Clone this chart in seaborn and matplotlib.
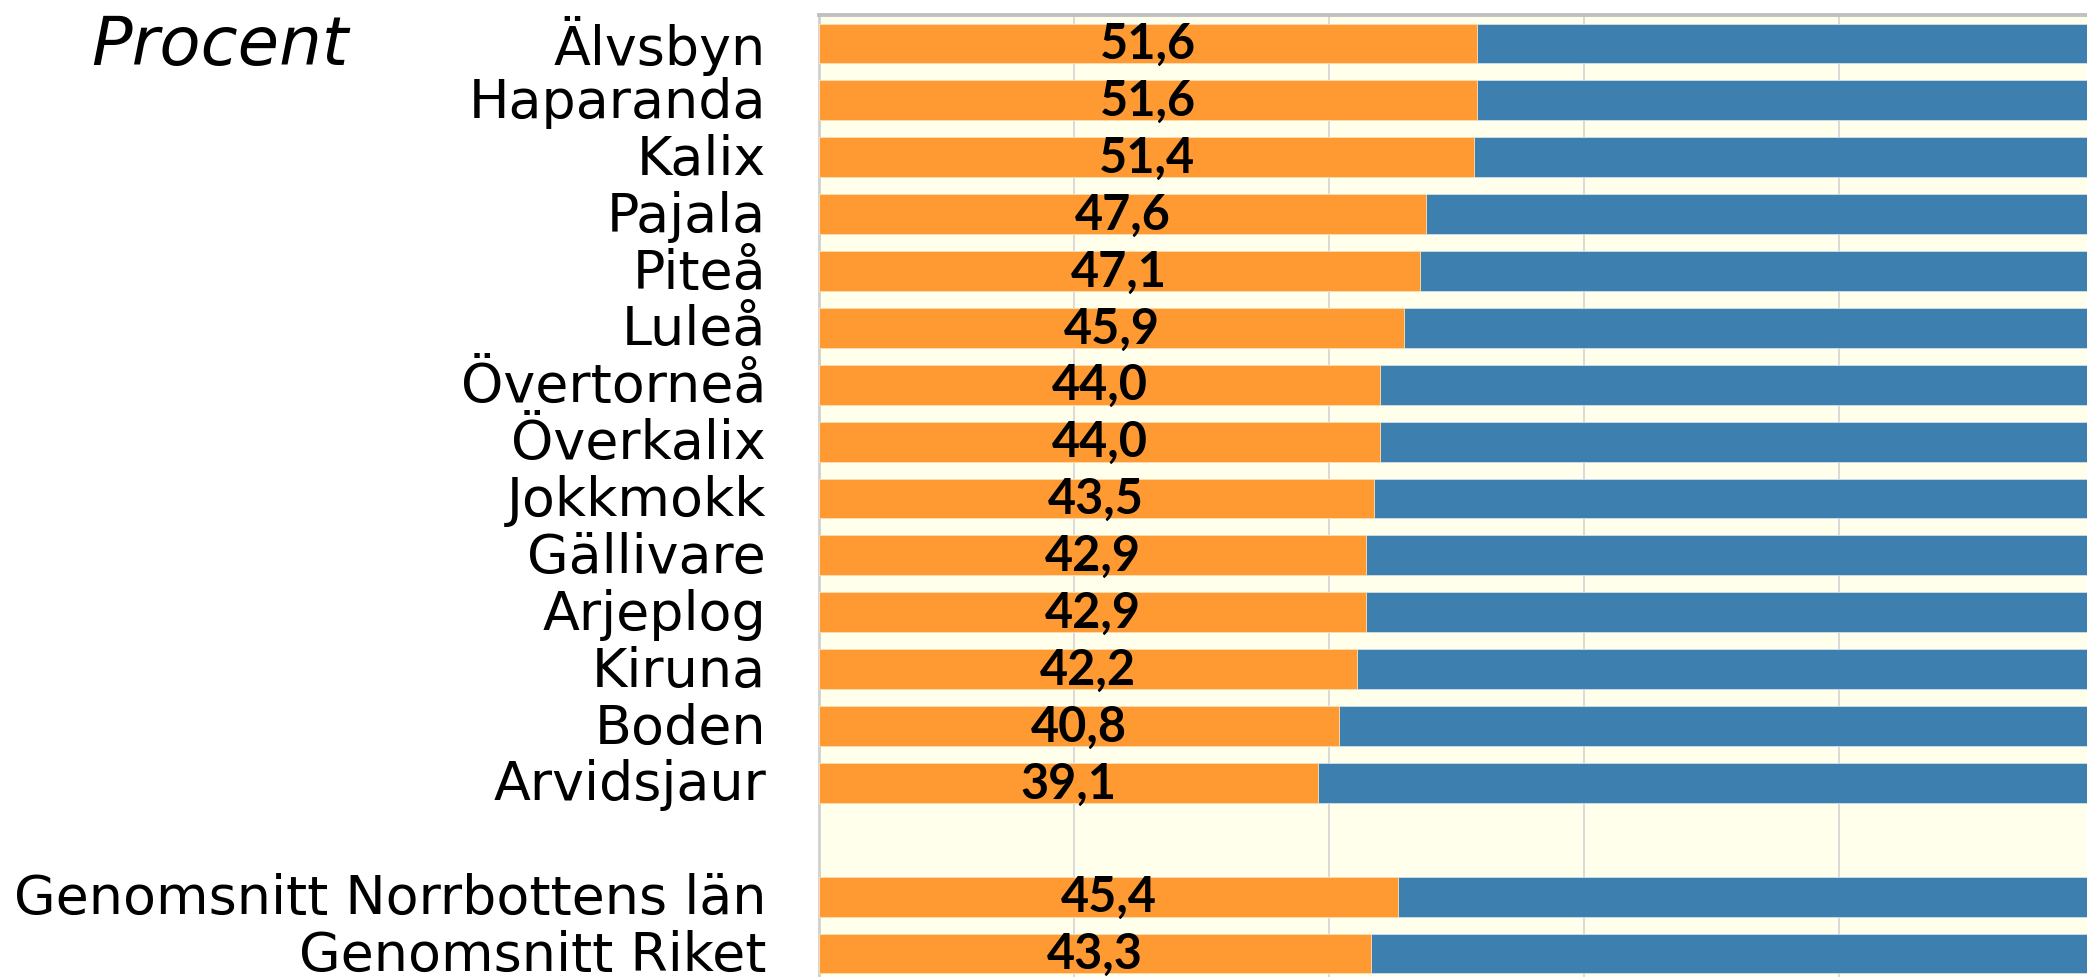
import numpy as np
import pandas as pd
import matplotlib
matplotlib.use("Agg")
import matplotlib.pyplot as plt
import matplotlib.transforms as mtransforms
import seaborn as sns

# ---- data ----
categories = ["Älvsbyn", "Haparanda", "Kalix", "Pajala", "Piteå", "Luleå",
              "Övertorneå", "Överkalix", "Jokkmokk", "Gällivare", "Arjeplog",
              "Kiruna", "Boden", "Arvidsjaur",
              "Genomsnitt Norrbottens län", "Genomsnitt Riket"]
orange_share = [51.6, 51.6, 51.4, 47.6, 47.1, 45.9, 44.0, 44.0, 43.5, 42.9,
                42.9, 42.2, 40.8, 39.1, 45.4, 43.3]
blue_share = [48.4, 48.4, 48.6, 52.4, 52.9, 54.1, 56.0, 56.0, 56.5, 57.1,
              57.1, 57.8, 59.2, 60.9, 54.6, 56.7]
gap_label = " "
order = categories[:14] + [gap_label] + categories[14:]

df = pd.DataFrame({"kommun": categories, "orange": orange_share, "blue": blue_share})
df["total"] = df["orange"] + df["blue"]

ORANGE = "#FF9A33"
BLUE = "#3D7FAE"
BG = "#FFFFEC"

sns.set_style("white")
plt.rcParams["font.family"] = ["DejaVu Sans"]
plt.rcParams["text.color"] = "black"
plt.rcParams["ytick.color"] = "black"

W, H = 2087, 978
fig = plt.figure(figsize=(W / 100, H / 100), dpi=100)
ax = fig.add_axes([819 / W, -5 / H, 1275 / W, 967 / H])
ax.set_facecolor(BG)

sns.barplot(data=df, y="kommun", x="total", order=order, orient="h",
            color=BLUE, saturation=1, width=0.7, ax=ax, errorbar=None,
            edgecolor="#CFE0EC", linewidth=0.6, zorder=2)
sns.barplot(data=df, y="kommun", x="orange", order=order, orient="h",
            color=ORANGE, saturation=1, width=0.7, ax=ax, errorbar=None,
            edgecolor="#FFE2B8", linewidth=0.6, zorder=3)

orange_container = ax.containers[-1]
ax.bar_label(orange_container, label_type="center",
             fmt=lambda v: f"{v:.1f}".replace(".", ","),
             fontsize=35, fontweight="bold", family=["Lato", "DejaVu Sans"],
             color="black", zorder=5)

ax.set_xlim(0, 100)
ax.set_ylim(len(order) - 0.5, -0.5)
ax.set_xticks([0, 20, 40, 60, 80, 100])
ax.xaxis.grid(True, color="#D9D9D9", linewidth=1.4, zorder=0)
ax.set_axisbelow(True)
ax.tick_params(axis="x", length=0, labelbottom=False)
ax.tick_params(axis="y", length=0, pad=38, labelsize=38.8, labelcolor="black")
ax.set_xlabel("")
ax.set_ylabel("")

offset = mtransforms.ScaledTranslation(0, 4 / 100, fig.dpi_scale_trans)
for lab in ax.get_yticklabels():
    lab.set_transform(lab.get_transform() + offset)

for side in ["right", "bottom"]:
    ax.spines[side].set_visible(False)
ax.spines["top"].set_color("#C0C0C0")
ax.spines["top"].set_linewidth(2.8)
ax.spines["left"].set_color("#D0D0D0")
ax.spines["left"].set_linewidth(2.0)

fig.text(91 / W, 1 - 65 / H, "Procent", fontsize=48.5, style="italic",
         ha="left", va="baseline", color="black")

fig.savefig("out.png", dpi=100, facecolor="white")
